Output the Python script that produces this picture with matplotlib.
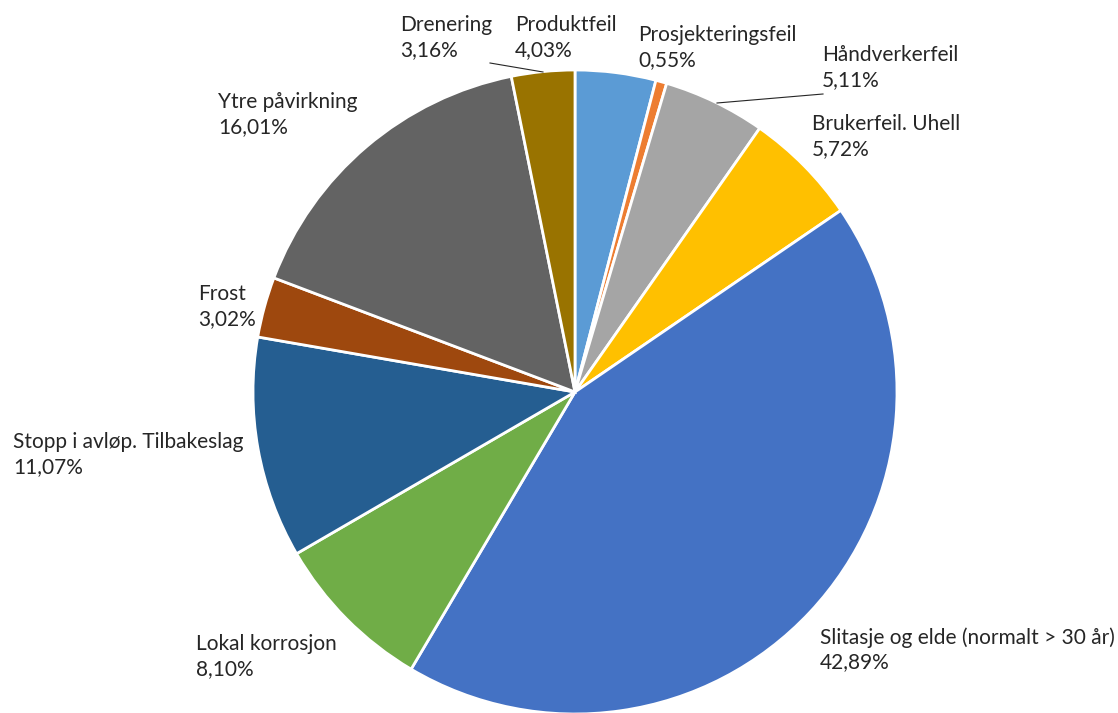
import matplotlib
matplotlib.use('Agg')
import matplotlib.pyplot as plt

plt.rcParams['font.family'] = ['Lato', 'DejaVu Sans']

# causes of damage, clockwise from 12 o'clock
categories = ['Produktfeil', 'Prosjekteringsfeil', 'Håndverkerfeil', 'Brukerfeil. Uhell',
              'Slitasje og elde (normalt > 30 år)', 'Lokal korrosjon',
              'Stopp i avløp. Tilbakeslag', 'Frost', 'Ytre påvirkning', 'Drenering']
shares = [4.03, 0.55, 5.11, 5.72, 42.89, 8.10, 11.07, 3.02, 16.01, 3.16]
colors = ['#5B9BD5', '#ED7D31', '#A5A5A5', '#FFC000', '#4472C4', '#70AD47',
          '#255E91', '#9E480E', '#636363', '#997300']

# label anchor (left, top) in pixel coordinates, origin top-left
label_pos = [(515, 15), (638, 25), (822, 45), (812, 114), (820, 627), (196, 634),
             (13, 432), (198, 284), (218, 92), (400, 15)]

W, H = 1118, 713
fig = plt.figure(figsize=(W / 100, H / 100), dpi=100)
ax = fig.add_axes([0, 0, 1, 1])

cx, cy, r = 575, H - 392, 322
ax.pie(shares, colors=colors, startangle=90, counterclock=False,
       center=(cx, cy), radius=r, frame=True,
       wedgeprops=dict(edgecolor='white', linewidth=2))
ax.set_xlim(0, W)
ax.set_ylim(0, H)
ax.axis('off')

for name, val, (x, y) in zip(categories, shares, label_pos):
    txt = name + '\n' + ('%.2f' % val).replace('.', ',') + '%'
    ax.text(x, H - y, txt, ha='left', va='top', fontsize=15,
            color='#262626', linespacing=1.3)

# leader lines for the two labels set away from their slices
ax.plot([490, 543], [H - 63, H - 72], color='#262626', lw=0.8)
ax.plot([717, 823], [H - 103, H - 94], color='#262626', lw=0.8)

fig.savefig('out.png', dpi=100)
